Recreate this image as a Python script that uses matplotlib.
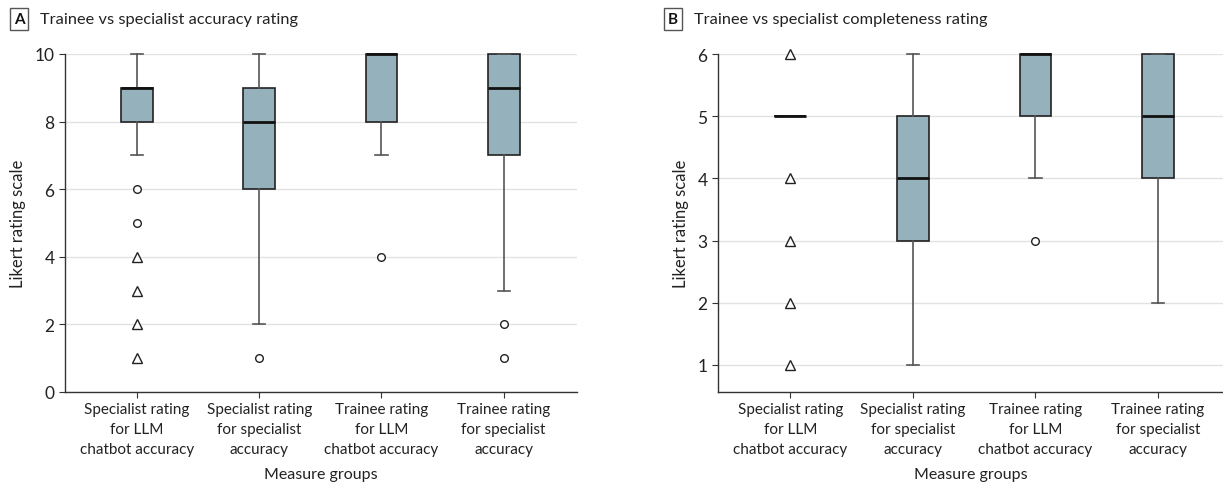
import matplotlib.pyplot as plt

plt.rcParams['font.family'] = ['Lato', 'DejaVu Sans']

groups = ['Specialist rating\nfor LLM\nchatbot accuracy',
          'Specialist rating\nfor specialist\naccuracy',
          'Trainee rating\nfor LLM\nchatbot accuracy',
          'Trainee rating\nfor specialist\naccuracy']

# panel A: accuracy (0-10)
acc_q1 = [8, 6, 8, 7]
acc_med = [9, 8, 10, 9]
acc_q3 = [9, 9, 10, 10]
acc_lo = [7, 2, 7, 3]
acc_hi = [10, 10, 10, 10]
acc_circles = [[6, 5], [1], [4], [2, 1]]
acc_triangles = [[4, 3, 2, 1], [], [], []]

# panel B: completeness (1-6)
comp_q1 = [5, 3, 5, 4]
comp_med = [5, 4, 6, 5]
comp_q3 = [5, 5, 6, 6]
comp_lo = [5, 1, 4, 2]
comp_hi = [5, 6, 6, 6]
comp_circles = [[], [], [3], []]
comp_triangles = [[6, 4, 3, 2, 1], [], [], []]

BOX = '#94b1bc'
EDGE = '#222222'
WHISK = '#555555'


def draw_panel(ax, q1, med, q3, lo, hi, circles, triangles, ylim, yticks):
    stats = []
    for i in range(4):
        stats.append(dict(q1=q1[i], med=med[i], q3=q3[i], whislo=lo[i], whishi=hi[i], fliers=circles[i]))
    pos = [1, 2, 3, 4]
    ax.bxp(stats, positions=pos, widths=0.26, patch_artist=True, showfliers=True,
           capwidths=0.1,
           boxprops=dict(facecolor=BOX, edgecolor=EDGE, linewidth=1.2),
           medianprops=dict(color='#111111', linewidth=2),
           whiskerprops=dict(color=WHISK, linewidth=1.2),
           capprops=dict(color=WHISK, linewidth=1.2),
           flierprops=dict(marker='o', markerfacecolor='white', markeredgecolor='#222222',
                           markersize=5.5, markeredgewidth=1))
    for i in range(4):
        if triangles[i]:
            ax.plot([pos[i]] * len(triangles[i]), triangles[i], linestyle='none', marker='^',
                    markerfacecolor='white', markeredgecolor='#222222', markersize=6.5,
                    markeredgewidth=1, clip_on=False, zorder=4)
    # let marks at the top limit draw fully
    for art in ax.get_children():
        try:
            art.set_clip_on(False)
        except Exception:
            pass
    ax.set_xlim(0.41, 4.6)
    ax.set_ylim(*ylim)
    ax.set_yticks(yticks)
    ax.set_xticks(pos)
    ax.set_xticklabels(groups, fontsize=11, linespacing=1.52)
    ax.yaxis.grid(True, color='#e2e2e2', linewidth=1)
    ax.set_axisbelow(True)
    for s in ['top', 'right']:
        ax.spines[s].set_visible(False)
    for s in ['left', 'bottom']:
        ax.spines[s].set_color('#333333')
        ax.spines[s].set_linewidth(1)
    ax.spines['left'].set_bounds(ylim[0], ylim[1])
    ax.tick_params(axis='both', colors='#333333', labelcolor='#222222', length=4, width=0.8)
    ax.tick_params(axis='y', labelsize=12.5)
    ax.set_xlabel('Measure groups', fontsize=11.5, color='#222222', labelpad=8)
    ax.set_ylabel('Likert rating scale', fontsize=12, color='#222222', labelpad=6)


fig = plt.figure(figsize=(12.23, 4.85), dpi=100)
axA = fig.add_axes([65 / 1223, 1 - 393 / 485, (577 - 65) / 1223, (393 - 55) / 485])
axB = fig.add_axes([718 / 1223, 1 - 393 / 485, (1223 - 718) / 1223, (393 - 55) / 485])

draw_panel(axA, acc_q1, acc_med, acc_q3, acc_lo, acc_hi, acc_circles, acc_triangles,
           (0, 10), [0, 2, 4, 6, 8, 10])
draw_panel(axB, comp_q1, comp_med, comp_q3, comp_lo, comp_hi, comp_circles, comp_triangles,
           (0.565, 6), [1, 2, 3, 4, 5, 6])
axB.set_xlim(0.41, 4.53)

box_style = dict(boxstyle='square,pad=0.25', facecolor='white', edgecolor='#555555', linewidth=1)
fig.text(19 / 1223, 1 - 20 / 485, 'A', fontsize=11, fontweight='bold', ha='center', va='center',
         bbox=box_style, color='#111111')
fig.text(40 / 1223, 1 - 20 / 485, 'Trainee vs specialist accuracy rating', fontsize=11.8,
         ha='left', va='center', color='#222222')
fig.text(673 / 1223, 1 - 20 / 485, 'B', fontsize=11, fontweight='bold', ha='center', va='center',
         bbox=box_style, color='#111111')
fig.text(694 / 1223, 1 - 20 / 485, 'Trainee vs specialist completeness rating', fontsize=11.8,
         ha='left', va='center', color='#222222')

fig.savefig('out.png', dpi=100)
